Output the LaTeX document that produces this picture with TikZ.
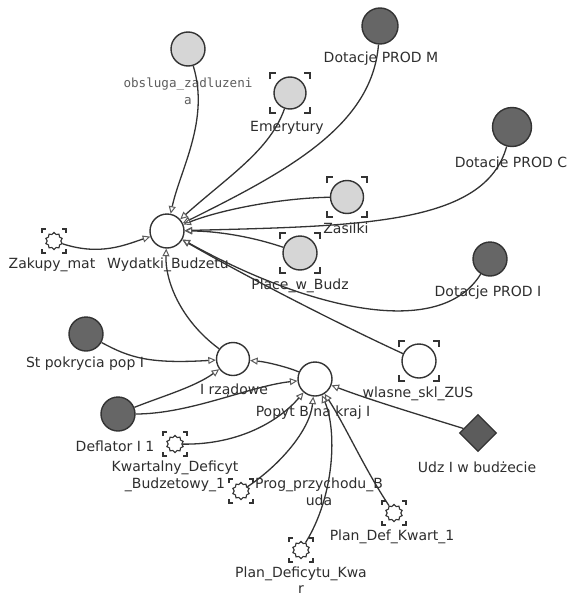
\documentclass[tikz,border=0pt]{standalone}
\usepackage{fontspec}
\setmainfont{DejaVu Sans}
\newfontfamily\obsfont{DejaVu Sans Mono}
\usepackage{tikz}
\usetikzlibrary{arrows.meta, shapes.geometric}
\definecolor{sdLine}{HTML}{333333}
\definecolor{sdArrow}{HTML}{5C5C5C}
\definecolor{sdLight}{HTML}{D6D6D6}
\definecolor{sdDark}{HTML}{666666}
\definecolor{sdText}{HTML}{2E2E2E}
\definecolor{sdGray}{HTML}{5E5E5E}

% corner marks round a node: node, half size, corner length
\newcommand{\corners}[3]{%
  \draw[bracket, shift={(#1.center)}]
    (-#2,-#2+#3) -- (-#2,-#2) -- (-#2+#3,-#2)
    (#2-#3,-#2) -- (#2,-#2) -- (#2,-#2+#3)
    (#2,#2-#3) -- (#2,#2) -- (#2-#3,#2)
    (-#2+#3,#2) -- (-#2,#2) -- (-#2,#2-#3);}

\begin{document}
\begin{tikzpicture}[
  x=1pt, y=-1pt,
  var/.style={circle, draw=sdLine, line width=1.4pt, minimum size=34pt, inner sep=0pt, fill=white},
  light/.style={var, fill=sdLight},
  dark/.style={var, fill=sdDark},
  cog/.style={star, star points=10, star point ratio=1.25, draw=sdLine, line width=1.1pt,
              minimum size=17pt, inner sep=0pt, fill=white},
  const/.style={diamond, draw=sdLine, line width=1.2pt, fill=sdDark!90!black, minimum size=37pt, inner sep=0pt},
  lbl/.style={font=\fontsize{14}{17}\selectfont, text=sdText, inner sep=0pt, align=center},
  bracket/.style={draw=sdLine, line width=1.4pt},
  arr/.style={-{Triangle[open, length=7.5pt, width=7pt, line width=1pt, color=sdArrow]},
              draw=sdLine, line width=1.3pt}
]
\path[fill=white] (0,0) rectangle (571,597);

\node[var]   (wyd)    at (167,231) {};
\node[light] (obs)    at (188,49)  {};
\node[light, minimum size=32pt] (emer) at (290,93) {};
\node[dark, minimum size=36pt]  (dotM) at (380,26) {};
\node[dark, minimum size=39pt]  (dotC) at (512,127) {};
\node[light, minimum size=33pt] (zas)  at (347,197) {};
\node[light] (place)  at (300,253) {};
\node[dark]  (dotI)   at (490,259) {};
\node[var]   (wlasne) at (419,361) {};
\node[cog]   (zak)    at (54,241)  {};
\node[dark]  (st)     at (86,334)  {};
\node[var, minimum size=33pt] (irz) at (233,359) {};
\node[var]   (pop)    at (315,379) {};
\node[dark]  (defl)   at (118,414) {};
\node[cog]   (kwart)  at (175,444) {};
\node[cog]   (prog)   at (241,491) {};
\node[cog]   (pdk)    at (301,550) {};
\node[cog]   (pdk1)   at (394,513) {};
\node[const] (udz)    at (478,433) {};

\corners{emer}{20}{6}
\corners{zas}{20}{6}
\corners{place}{20}{6}
\corners{wlasne}{20}{6}
\corners{zak}{12}{4}
\corners{kwart}{12}{4}
\corners{prog}{12}{4}
\corners{pdk}{12}{4}
\corners{pdk1}{12}{4}

\node[lbl, font=\obsfont\fontsize{12.6}{17}\selectfont, text=sdGray] (obs-l) at (188,91) {obsluga\_zadluzeni\\a};
\node[lbl] (emer-l)   at (287,128) {Emerytury};
\node[lbl] (dotM-l)   at (381,59)  {Dotacje PROD M};
\node[lbl] (dotC-l)   at (511,164) {Dotacje PROD C};
\node[lbl] (zas-l)    at (346,228) {Zasilki};
\node[lbl] (place-l)  at (300,286) {Place\_w\_Budz};
\node[lbl] (dotI-l)   at (488,293) {Dotacje PROD I};
\node[lbl] (wlasne-l) at (418,394) {wlasne\_skl\_ZUS};
\node[lbl] (wyd-l)    at (168,265) {Wydatki\_Budzetu};
\node[lbl] (zak-l)    at (52,265)  {Zakupy\_mat};
\node[lbl] (st-l)     at (85,364)  {St pokrycia pop I};
\node[lbl] (irz-l)    at (234,391) {I rządowe};
\node[lbl] (pop-l)    at (313,413) {Popyt B na kraj I};
\node[lbl] (defl-l)   at (115,446) {Deflator I 1};
\node[lbl] (kwart-l)  at (175,476) {Kwartalny\_Deficyt\\\_Budzetowy\_1};
\node[lbl] (prog-l)   at (319,492) {Prog\_przychodu\_B\\uda};
\node[lbl, font=\fontsize{14}{16}\selectfont] (pdk-l) at (301,580) {Plan\_Deficytu\_Kwa\\r};
\node[lbl] (pdk1-l)   at (392,537) {Plan\_Def\_Kwart\_1};
\node[lbl] (udz-l)    at (477,467) {Udz I w budżecie};

\draw[arr] (obs) .. controls (210,120) and (180,170) .. (wyd);
\draw[arr] (emer) .. controls (270,150) and (230,175) .. (wyd);
\draw[arr] (dotM) .. controls (372,125) and (290,170) .. (wyd);
\draw[arr] (dotC) .. controls (485,225) and (360,226) .. (wyd);
\draw[arr] (zas) .. controls (280,198) and (220,210) .. (wyd);
\draw[arr] (place) .. controls (250,236) and (215,231) .. (wyd);
\draw[arr] (dotI) .. controls (440,340) and (310,310) .. (wyd);
\draw[arr] (wlasne) .. controls (330,320) and (240,273) .. (wyd);
\draw[arr] (zak) .. controls (100,256) and (125,245) .. (wyd);
\draw[arr] (irz) .. controls (180,320) and (165,280) .. (wyd);

\draw[arr] (st) .. controls (130,358) and (150,364) .. (irz);
\draw[arr] (pop) .. controls (290,368) and (268,362) .. (irz);
\draw[arr] (defl) .. controls (160,397) and (195,387) .. (irz);

\draw[arr] (defl) .. controls (190,414) and (250,386) .. (pop);
\draw[arr] (kwart) .. controls (240,445) and (280,420) .. (pop);
\draw[arr] (prog) .. controls (280,465) and (310,430) .. (pop);
\draw[arr] (pdk) .. controls (335,495) and (337,430) .. (pop);
\draw[arr] (pdk1) .. controls (365,470) and (345,425) .. (pop);
\draw[arr] (udz) .. controls (420,415) and (370,400) .. (pop);

\end{tikzpicture}
\end{document}
